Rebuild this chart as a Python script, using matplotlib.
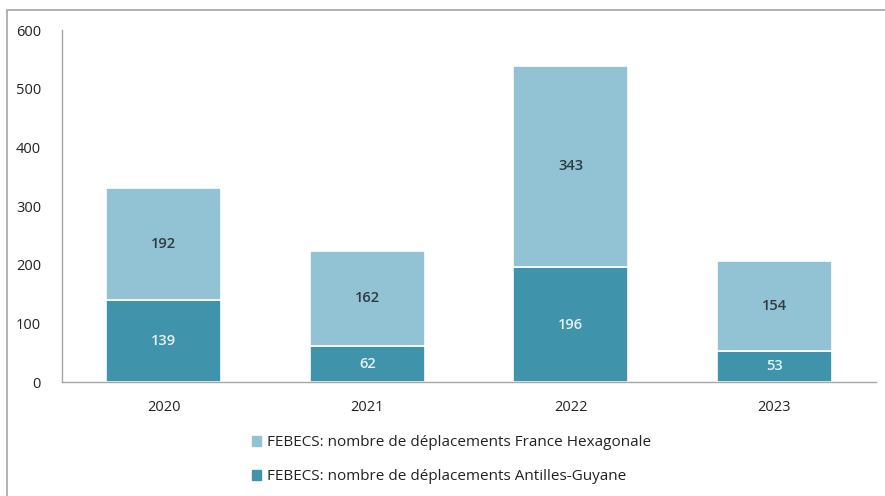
import matplotlib
matplotlib.use("Agg")
import matplotlib.pyplot as plt
from matplotlib.patches import Patch, Rectangle

plt.rcParams["font.family"] = ["Open Sans", "DejaVu Sans"]

YEARS = ["2020", "2021", "2022", "2023"]
ANTILLES = [139, 62, 196, 53]
FRANCE = [192, 162, 343, 154]
LABEL_FRANCE = "FEBECS: nombre de déplacements France Hexagonale"
LABEL_ANTILLES = "FEBECS: nombre de déplacements Antilles-Guyane"

LIGHT = "#92c3d5"
DARK = "#3f93ab"
GRAY = "#a6a6a6"

fig = plt.figure(figsize=(8.85, 4.96), dpi=100)
ax = fig.add_axes([0.070, 0.2298, 0.920, 0.7097])

x = range(len(YEARS))
width = 0.565
ax.bar(x, ANTILLES, width, color=DARK, edgecolor="white", linewidth=1.2, zorder=2)
ax.bar(x, FRANCE, width, bottom=ANTILLES, color=LIGHT, edgecolor="white",
       linewidth=1.2, zorder=2)

for i, (a, f) in enumerate(zip(ANTILLES, FRANCE)):
    ax.text(i, a / 2, str(a), ha="center", va="center", fontsize=10.5,
            color="#e6f2f6", fontweight="semibold")
    ax.text(i, a + f / 2, str(f), ha="center", va="center", fontsize=10.5,
            color="#303a40", fontweight="semibold")

ax.set_xlim(-0.5, len(YEARS) - 0.5)
ax.set_ylim(0, 600)
ax.set_yticks(range(0, 601, 100))
ax.set_xticks(list(x))
ax.set_xticklabels(YEARS)
ax.tick_params(axis="both", length=0, labelsize=10.5, colors="#222222")
ax.tick_params(axis="y", pad=15)
ax.tick_params(axis="x", pad=13)
for s in ("top", "right"):
    ax.spines[s].set_visible(False)
for s in ("left", "bottom"):
    ax.spines[s].set_color(GRAY)
    ax.spines[s].set_linewidth(1.0)

handles = [Patch(color=LIGHT, label=LABEL_FRANCE),
           Patch(color=DARK, label=LABEL_ANTILLES)]
fig.legend(handles=handles, loc="center left", bbox_to_anchor=(0.269, 0.073),
           frameon=False, fontsize=11, handlelength=0.6, handleheight=0.6,
           handletextpad=0.4, labelspacing=1.25, labelcolor="#222222")

fig.patches.append(Rectangle((7 / 885, -0.05), 1.1, 1 - 10.5 / 496 + 0.05,
                             transform=fig.transFigure, fill=False,
                             edgecolor=GRAY, linewidth=1.2))

fig.savefig("out.png", dpi=100)
